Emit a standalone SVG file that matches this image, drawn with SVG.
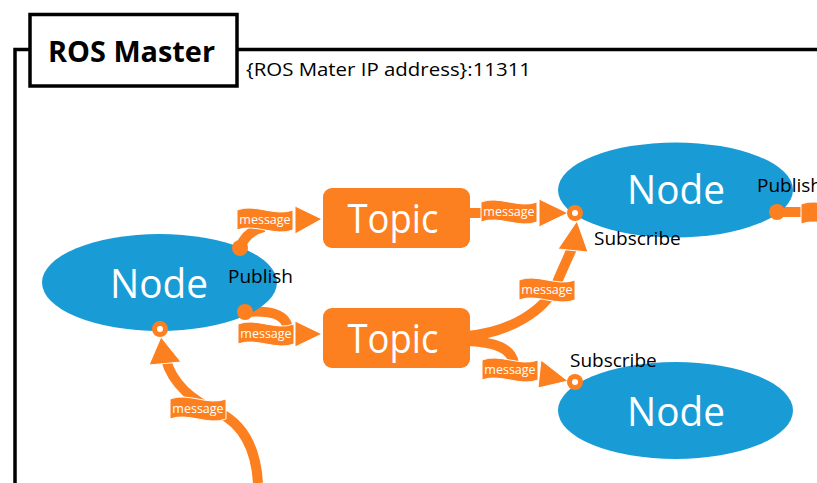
<svg xmlns="http://www.w3.org/2000/svg" xmlns:xlink="http://www.w3.org/1999/xlink" width="817" height="483" viewBox="0 0 817 483">
  <style>
    .frame { fill: none; stroke: #000; stroke-width: 3.5; }
    .node { fill: #199BD6; }
    .topic { fill: #FC7F20; }
    .big { font-family: "Open Sans", "Liberation Sans", sans-serif; fill: #fff; font-size: 40px; text-anchor: middle; }
    .lbl { font-family: "Open Sans", "Liberation Sans", sans-serif; fill: #000; font-size: 19px; }
    .msg { font-family: "Open Sans", "Liberation Sans", sans-serif; fill: #fff; font-size: 12.5px; text-anchor: middle; }
    .wire { fill: none; stroke: #FC7F20; stroke-width: 10; }
    .flag { fill: #FC7F20; stroke: #fff; stroke-width: 1; }
    .head { fill: #FC7F20; stroke: #fff; stroke-width: 1; }
    .dot { fill: #FC7F20; }
    .hole { fill: #fff; }
  </style>
  <defs>
    <!-- wavy banner that carries a "message" label -->
    <path id="banner" d="M0,3 C18,-4 38,10 56,3 L56,23 C38,30 18,16 0,23 Z"/>
  </defs>

  <!-- master frame -->
  <g id="master">
    <path class="frame" d="M15,483 V49.5 H30 M237,49.5 H817"/>
    <rect class="frame" x="30" y="14.5" width="207" height="71.5" fill="#fff"/>
    <text x="131.5" y="62" font-family="'Open Sans', 'Liberation Sans', sans-serif" font-weight="bold" font-size="28" text-anchor="middle" textLength="167" lengthAdjust="spacingAndGlyphs">ROS Master</text>
    <text class="lbl" x="246" y="76" textLength="285" lengthAdjust="spacingAndGlyphs">{ROS Mater IP address}:11311</text>
  </g>

  <!-- connectors -->
  <g id="connectors">
    <path class="wire" d="M240,248 C244,236 252,230 264,227"/>
    <path class="wire" d="M466,213 H490"/>
    <path class="wire" d="M245,312 C268,310 287,313 288,330"/>
    <path class="wire" d="M466,336 C510,333 545,310 556,285 C562,270 568,258 573,246"/>
    <path class="wire" d="M466,341 C495,342 512,348 514,364"/>
    <path class="wire" d="M258,483 C256,450 245,425 218,412 C195,402 173,385 166,360"/>
    <path class="wire" d="M777,212 H806"/>

    <use href="#banner" class="flag" x="237" y="207"/>
    <use href="#banner" class="flag" x="481" y="199"/>
    <use href="#banner" class="flag" x="238" y="321"/>
    <use href="#banner" class="flag" x="519" y="277"/>
    <use href="#banner" class="flag" x="482" y="357"/>
    <use href="#banner" class="flag" x="170" y="396"/>
    <use href="#banner" class="flag" x="801" y="201"/>

    <polygon class="head" points="295,206 322,219 295,234"/>
    <polygon class="head" points="539,199 568,213 539,227"/>
    <polygon class="head" points="295,321 322,334 295,347"/>
    <polygon class="head" points="558,249 577,221 588,252"/>
    <polygon class="head" points="541,360 568,381 538,388"/>
    <polygon class="head" points="149,365 161,337 181,362"/>

    <text class="msg" x="265" y="224">message</text>
    <text class="msg" x="509" y="216">message</text>
    <text class="msg" x="266" y="338">message</text>
    <text class="msg" x="547" y="294">message</text>
    <text class="msg" x="510" y="374">message</text>
    <text class="msg" x="198" y="413">message</text>
  </g>

  <!-- nodes -->
  <g id="node-left">
    <ellipse class="node" cx="159.5" cy="282.5" rx="117.5" ry="48.5"/>
    <text class="big" x="159" y="298" textLength="98" lengthAdjust="spacingAndGlyphs">Node</text>
    <circle class="dot" cx="240" cy="248" r="8"/>
    <circle class="dot" cx="245" cy="312" r="8"/>
    <circle class="dot" cx="160" cy="329" r="8"/>
    <circle class="hole" cx="160" cy="329" r="3"/>
    <text class="lbl" x="228" y="283">Publish</text>
  </g>

  <g id="node-top-right">
    <ellipse class="node" cx="675.5" cy="190" rx="117.5" ry="47.5"/>
    <text class="big" x="676" y="204" textLength="98" lengthAdjust="spacingAndGlyphs">Node</text>
    <circle class="dot" cx="575" cy="213" r="8"/>
    <circle class="hole" cx="575" cy="213" r="3"/>
    <circle class="dot" cx="777" cy="212" r="8"/>
    <text class="lbl" x="594" y="245">Subscribe</text>
    <text class="lbl" x="757" y="192">Publish</text>
  </g>

  <g id="node-bottom-right">
    <ellipse class="node" cx="675.5" cy="410.5" rx="117.5" ry="48.5"/>
    <text class="big" x="676" y="426" textLength="98" lengthAdjust="spacingAndGlyphs">Node</text>
    <circle class="dot" cx="575" cy="382" r="8"/>
    <circle class="hole" cx="575" cy="382" r="3"/>
    <text class="lbl" x="570" y="367">Subscribe</text>
  </g>

  <g id="topic-1">
    <rect class="topic" x="323" y="188" width="147" height="60" rx="9"/>
    <text class="big" x="393" y="233" textLength="91" lengthAdjust="spacingAndGlyphs">Topic</text>
  </g>

  <g id="topic-2">
    <rect class="topic" x="323" y="308" width="147" height="60" rx="9"/>
    <text class="big" x="393" y="353" textLength="91" lengthAdjust="spacingAndGlyphs">Topic</text>
  </g>
</svg>
